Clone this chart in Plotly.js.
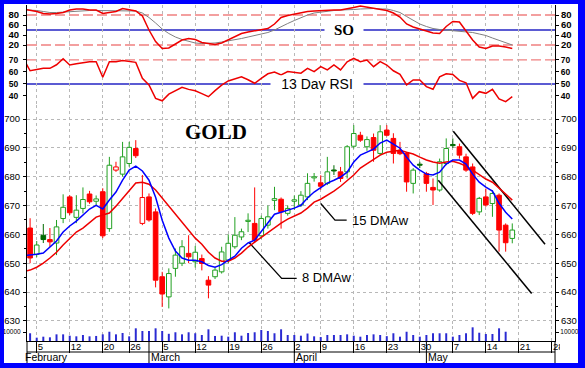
<!DOCTYPE html>
<html><head><meta charset="utf-8">
<script src="https://cdn.plot.ly/plotly-3.0.1.min.js"></script>
<style>
html,body{margin:0;padding:0;background:#0000ff;}
#wrap{position:relative;width:585px;height:368px;background:#0000ff;overflow:hidden}
#chart{position:absolute;left:4px;top:4px;width:574px;height:359px;background:#fff}
</style></head><body><div id="wrap"><div id="chart"></div></div>
<script>
// ---- tick labels ----
const weekTicks = [1,6,11,15,20,25,30,35,40,44,49,54,59,64,69,74,79];
const weekLabels = ["5","12","20","26","5","12","19","26","2","9","16","23","30","7","14","21","28"];
const monthNames = ["February","March","April","May"];
const monthFirstDay = [0,18,40,60];
const volTick = [10000], volTickText = ["10000"];

// ---- daily OHLC (trading-day index 0 = Feb 2) ----
const openP = [662.2,653.1,659.7,658.2,657.0,665.5,673.0,665.9,669.0,674.0,
 671.5,674.8,662.0,682.3,680.9,684.6,689.8,663.8,673.0,667.8,
 645.3,638.3,648.2,650.0,653.4,650.5,651.6,644.1,645.3,647.0,
 651.1,655.7,659.1,664.5,663.8,659.5,663.2,671.8,672.2,667.3,
 671.5,670.2,673.0,679.6,677.9,677.7,682.3,681.7,681.7,690.6,
 694.4,690.4,693.6,688.1,696.2,693.3,689.2,688.1,677.7,684.3,
 681.1,676.3,675.4,684.6,691.2,690.4,686.9,683.4,667.8,673.0,
 670.7,673.6,663.2,658.6];
const highP = [665.6,657.7,663.6,662.2,665.0,673.9,673.6,673.6,676.3,675.1,
 673.5,676.0,686.9,685.2,692.1,692.1,692.7,680.6,674.2,669.0,
 647.0,648.2,655.1,658.0,659.7,656.0,653.0,645.5,648.5,655.7,
 660.0,666.0,662.0,667.3,676.3,666.5,670.0,676.5,672.8,670.0,
 673.5,675.0,681.2,681.3,680.5,686.9,684.0,683.4,691.0,697.9,
 695.6,694.0,695.0,697.9,697.9,695.1,692.1,688.6,683.0,685.2,
 681.7,679.4,686.3,693.3,693.3,691.5,688.0,684.6,673.0,675.9,
 675.3,674.2,663.8,663.8];
const lowP = [650.0,652.1,657.0,655.7,652.8,663.9,666.7,663.9,667.3,670.6,
 670.0,658.7,660.9,681.7,680.0,683.5,686.5,663.2,664.4,641.6,
 634.8,634.3,645.3,649.0,650.0,648.5,647.5,637.8,644.5,646.4,
 650.0,655.0,658.0,660.8,657.0,658.5,662.0,668.4,662.0,666.5,
 668.5,669.5,671.9,678.3,675.5,677.1,680.6,678.2,679.4,689.8,
 692.1,689.0,685.2,687.5,694.0,684.6,687.5,674.8,674.2,683.0,
 674.8,670.2,674.8,684.0,690.0,686.3,681.7,666.7,666.7,669.6,
 666.1,654.0,654.0,656.9];
const closeP = [651.8,656.3,658.2,657.4,662.6,669.4,667.5,668.4,672.1,671.3,
 672.3,659.5,684.0,683.4,686.9,690.2,687.3,672.8,665.0,644.1,
 639.3,646.4,652.8,655.7,652.2,653.8,649.9,642.4,647.6,653.9,
 656.9,659.7,660.9,664.9,658.0,665.5,666.1,672.4,667.8,669.0,
 672.0,673.6,677.7,680.0,676.7,681.7,682.0,679.4,690.4,695.0,
 692.7,692.9,689.2,695.6,694.4,688.1,688.0,678.2,682.3,684.0,
 677.7,675.4,685.2,689.8,690.8,687.5,682.3,667.3,672.5,670.2,
 674.2,661.5,657.1,661.5];
const volume = [8600,3700,4800,4100,7400,7400,5900,5200,6700,5200,
 5600,7400,10300,7400,8900,5200,14100,11100,11100,14100,
 11100,8000,9700,7400,9700,8600,6700,13000,5600,5900,
 4800,9700,5900,8900,9700,12200,11100,8600,13000,6700,
 6700,5900,8300,5200,4400,6700,6700,6700,7400,5900,
 4800,6700,7400,6700,5400,8600,4800,10300,6700,4800,
 6700,8600,8600,8600,4800,6700,8600,15200,9200,7800,
 7800,14100,10300,null];

// ---- indicator lines (index -1 .. 73) ----
const lineDays = Array.from({length:75},(_, k)=>k-1);
const ma8 = [652.6,652.8,653.1,653.5,655.6,657.7,660.8,662.9,664.6,666.7,668.8,
 670.1,668.8,671.9,674.7,678.8,682.3,683.7,682.0,678.8,672.9,
 664.9,658.7,654.2,651.8,651.0,651.0,650.5,649.2,648.6,649.5,
 651.1,652.4,655.2,657.0,658.0,661.1,664.2,667.0,667.7,668.4,
 669.1,670.1,672.6,674.7,676.1,677.8,678.8,679.9,681.6,685.1,
 687.5,688.5,689.6,691.7,692.7,691.3,689.9,686.8,684.0,682.3,
 680.9,680.6,681.6,684.4,685.8,685.8,684.4,680.9,678.1,676.4,
 675.0,670.8,667.7,665.3];
const ma15 = [647.2,647.6,648.6,650.0,651.8,653.8,656.3,658.7,660.8,662.2,664.2,
 666.0,666.7,667.4,669.8,672.6,675.4,677.8,678.1,677.4,675.4,
 672.6,669.8,667.0,664.2,661.5,658.7,656.6,653.8,651.8,650.7,
 650.7,651.8,653.5,655.6,657.3,659.0,660.4,662.2,663.9,665.3,
 666.3,667.4,669.1,671.2,672.2,673.6,675.0,676.7,678.5,680.6,
 683.0,684.4,685.8,687.5,688.5,688.9,689.2,688.5,687.9,686.8,
 685.8,685.1,684.7,685.1,685.4,684.7,683.7,682.3,680.6,679.2,
 678.1,676.1,674.0,671.9];
const soK = [92,90,87,83,82,83,85,90,92,92,90,
 90,83,85,87,93,91,88,78,50,27,
 13,14,22,30,33,31,25,23,21,24,
 30,36,43,46,48,50,53,62,75,79,
 82,84,87,88,89,90,90,90,92,95,
 98,96,93,92,89,84,76,62,56,52,
 48,44,43,57,67,66,48,30,16,13,
 18,18,16,13];
const soD = [90.5,90,89,87,85,85,86,87,88,89,89,
 89,89,88,88,88,89,88,84,75,64,
 52,43,36,31,27,24,23,23,24,26,
 28,30,33,36,39,42,45,50,57,63,
 69,75,80,84,86,88,89,90,90,91,
 92,93,93,92,92,89,85,77,70,62,
 57,53,51,50,49,48,47,45,42,39,
 34,29,24,20];
const rsi13 = [71,61,62,63,63,66,71,65.8,66.8,67.8,68.6,
 68.6,55.6,68.6,68.6,69.5,69,68,54.7,49.2,38,
 36,41.5,44.5,47.2,45.5,44.3,42,39.4,44.5,49,
 52.5,54.5,56,53.5,50.6,54.7,58.5,60,57.5,60.3,
 59.5,59,63,60.3,64.4,61.7,65.8,61.7,68.4,71.4,
 68.6,70,64.4,68.6,65.8,61,58,49.2,53.3,53.3,
 47.8,45.6,56,58.5,58,53,51,38,43.6,42.2,
 45.6,37.5,35.3,39.4];

// ---- drawn trend channel and label leaders ----
const channelUpperX = [64.07,77.96], channelUpperY = [695.8,656.6];
const channelLowerX = [61.8,75.94],  channelLowerY = [678.8,639.5];
const lead15X = [44.0,46.16,47.93], lead15Y = [670.7,664.94,664.94];
const lead8X = [33.19,38.09,40.36],  lead8Y = [657.1,644.7,644.7];

const FONT = 'Liberation Sans, Arial, Helvetica, sans-serif';
const SERIF = 'Liberation Serif, Times New Roman, serif';
const GREEN = '#22a022', DARKGREEN = '#006a00', RED = '#ff0000';

const days = openP.map((_, i) => i);
const bodyBase = [], bodyLen = [], bodyFill = [], bodyLine = [];
const wicks = {};
[GREEN, DARKGREEN, RED].forEach(c => wicks[c] = {x:[], y:[]});
days.forEach(i => {
  const o = openP[i], c = closeP[i];
  const up = i > 0 && c >= closeP[i-1];
  const hollow = c > o;
  const col = up ? (hollow ? GREEN : DARKGREEN) : RED;
  const lo = Math.min(o,c), hi = Math.max(o,c);
  bodyBase.push(lo); bodyLen.push(Math.max(hi-lo, 0.35));
  bodyFill.push(hollow ? '#ffffff' : col); bodyLine.push(col);
  const w = wicks[col];
  w.x.push(i,i,null,i,i,null);
  w.y.push(lowP[i], lo, null, Math.max(hi, lo+0.35), highP[i], null);
});

const traces = [];
traces.push({type:'bar', x:days, y:volume, width:0.3, marker:{color:'#2a2ad2'}, xaxis:'x', yaxis:'y4', hoverinfo:'skip'});
traces.push({type:'bar', x:days, base:bodyBase, y:bodyLen, width:0.7,
  marker:{color:bodyFill, line:{color:bodyLine, width:1}}, xaxis:'x', yaxis:'y', hoverinfo:'skip'});
Object.keys(wicks).forEach(c => traces.push({type:'scatter', mode:'lines', x:wicks[c].x, y:wicks[c].y,
  line:{color:c, width:1}, xaxis:'x', yaxis:'y', hoverinfo:'skip'}));
[[channelUpperX,channelUpperY],[channelLowerX,channelLowerY]].forEach(([x,y]) =>
  traces.push({type:'scatter', mode:'lines', x, y, line:{color:'#000', width:1.5}, xaxis:'x', yaxis:'y', hoverinfo:'skip'}));
[[lead15X,lead15Y],[lead8X,lead8Y]].forEach(([x,y]) =>
  traces.push({type:'scatter', mode:'lines', x, y, line:{color:'#000', width:1.3}, xaxis:'x', yaxis:'y', hoverinfo:'skip'}));
traces.push({type:'scatter', mode:'lines', x:lineDays, y:ma15, line:{color:'#ee0000', width:1.5}, xaxis:'x', yaxis:'y'});
traces.push({type:'scatter', mode:'lines', x:lineDays, y:ma8, line:{color:'#0000ff', width:1.5}, xaxis:'x', yaxis:'y'});
traces.push({type:'scatter', mode:'lines', x:lineDays, y:rsi13, line:{color:'#ee0000', width:1.5}, xaxis:'x', yaxis:'y2'});
traces.push({type:'scatter', mode:'lines', x:lineDays, y:soD, line:{color:'#808080', width:1}, xaxis:'x', yaxis:'y3'});
traces.push({type:'scatter', mode:'lines', x:lineDays, y:soK, line:{color:'#ee0000', width:1.5}, xaxis:'x', yaxis:'y3'});
['y5','y6','y7','y8'].forEach(ya => traces.push({type:'scatter', mode:'markers', x:[null], y:[null], xaxis:'x', yaxis:ya, hoverinfo:'skip'}));

const H = 336; // plot area height in px
const dom = {so:[288/H,1], rsi:[236/H,288/H], price:[15/H,236/H], vol:[0,15/H]};
const R = {so:[4,100], rsi:[32.5,75.8], price:[628.2,704.9], vol:[0,16667]};

function yAx(extra){
  return Object.assign({ticks:'outside', ticklen:3, tickcolor:'#000', showline:true, linecolor:'#000', linewidth:1,
    zeroline:false, showgrid:false, fixedrange:true, anchor:'x'}, extra);
}
const fPrice = {size:9.5, family:FONT, color:'#000'};
const fRsi = {size:8.5, family:FONT, color:'#000', weight:'bold'};
const fSo = {size:9.5, family:FONT, color:'#000', weight:'bold'};
const fVol = {size:6.5, family:FONT, color:'#000'};
const minorP = {ticks:'outside', ticklen:2, tickcolor:'#000', dtick:5, tick0:630, showgrid:false};

const pap = y => (341 - y) / H; // page y -> paper

const shapes = [
  {type:'line', xref:'paper', x0:0, x1:1, yref:'y3', y0:80, y1:80, line:{color:'#f08080', width:1.3, dash:'10px,4px'}, layer:'between'},
  {type:'line', xref:'paper', x0:0, x1:1, yref:'y3', y0:20, y1:20, line:{color:'#f08080', width:1.3, dash:'10px,4px'}, layer:'between'},
  {type:'line', xref:'paper', x0:0, x1:1, yref:'y3', y0:50, y1:50, line:{color:'#2424c4', width:1.6}, layer:'between'},
  {type:'line', xref:'paper', x0:0, x1:1, yref:'y2', y0:70, y1:70, line:{color:'#f08080', width:1.3, dash:'10px,4px'}, layer:'between'},
  {type:'line', xref:'paper', x0:0, x1:1, yref:'y2', y0:50, y1:50, line:{color:'#2424c4', width:1.6}, layer:'between'},
  {type:'rect', xref:'paper', x0:1 + 5/528, x1:1.045, yref:'paper', y0:pap(342), y1:pap(352.5), fillcolor:'#fff', line:{width:0}, layer:'above'},
  {type:'line', xref:'paper', x0:0, x1:1, yref:'paper', y0:pap(352), y1:pap(352), line:{color:'#000', width:1}, layer:'above'},
  {type:'line', xref:'paper', x0:0, x1:0, yref:'paper', y0:0, y1:pap(363), line:{color:'#000', width:1}, layer:'above'},
  {type:'line', xref:'paper', x0:1, x1:1, yref:'paper', y0:0, y1:pap(363), line:{color:'#000', width:1}, layer:'above'}
];
monthFirstDay.forEach((d, k) => { if (k > 0) shapes.push({type:'line', xref:'x', x0:d, x1:d, yref:'paper', y0:0, y1:pap(363), line:{color:'#000', width:1}, layer:'above'}); });

const annotations = [
  {text:'<b>GOLD</b>', xref:'x', x:28.2, yref:'y', y:695.5, showarrow:false, font:{family:SERIF, size:21, color:'#000'}},
  {text:'<b>SO</b>', xref:'x', x:47.57, yref:'y3', y:50, showarrow:false, font:{family:SERIF, size:15, color:'#000'}, bgcolor:'#fff', width:36, height:14},
  {text:'13 Day RSI', xref:'x', x:43.39, yref:'y2', y:50, showarrow:false, font:{family:FONT, size:14, color:'#000'}, bgcolor:'#fff', width:90, height:13},
  {text:'15 DMAw', xref:'x', x:48.5, xanchor:'left', yref:'y', y:664.9, showarrow:false, font:{family:FONT, size:13, color:'#000'}},
  {text:'8 DMAw', xref:'x', x:40.9, xanchor:'left', yref:'y', y:645.2, showarrow:false, font:{family:FONT, size:13, color:'#000'}}
];
monthNames.forEach((m, k) => annotations.push({text:m, xref: k===0 ? 'paper' : 'x', x: k===0 ? 0 : monthFirstDay[k],
  xanchor:'left', xshift: k===0 ? -3 : 1, yref:'paper', y:pap(357.3), yanchor:'middle', showarrow:false, borderpad:0,
  font:{family:FONT, size:10.5, color:'#000'}}));

const layout = {
  width:574, height:359, margin:{l:23, r:23, t:1, b:22},
  paper_bgcolor:'#fff', plot_bgcolor:'#fff', showlegend:false, barmode:'overlay',
  font:{family:FONT, color:'#000'},
  xaxis:{domain:[0,1], range:[-0.47,79.47], anchor:'y4', tickmode:'array', tickvals:weekTicks, ticktext:weekLabels,
    ticks:'outside', ticklen:11, tickcolor:'#000', tickwidth:1, showline:true, linecolor:'#000', linewidth:1,
    showgrid:true, gridcolor:'#b8b8b8', griddash:'dot', gridwidth:1, zeroline:false, fixedrange:true,
    tickfont:{size:9.5, family:FONT, color:'#000'}, ticklabelposition:'outside right', ticklabelstandoff:-3},
  yaxis: yAx({domain:dom.price, range:R.price, tickmode:'linear', tick0:630, dtick:10, tickfont:fPrice, showgrid:true, gridcolor:'#b8b8b8', griddash:'dot', minor:minorP, ticklabelstandoff:1}),
  yaxis2: yAx({domain:dom.rsi, range:R.rsi, tickmode:'array', tickvals:[40,50,60,70], tickfont:fRsi, ticklabelstandoff:3}),
  yaxis3: yAx({domain:dom.so, range:R.so, tickmode:'array', tickvals:[20,40,60,80], tickfont:fSo, ticklabelstandoff:2}),
  yaxis4: yAx({domain:dom.vol, range:R.vol, tickmode:'array', tickvals:volTick, ticktext:volTickText, tickfont:fVol, ticklabelstandoff:1}),
  yaxis5: yAx({overlaying:'y', side:'right', range:R.price, tickmode:'linear', tick0:630, dtick:10, tickfont:fPrice, minor:minorP}),
  yaxis6: yAx({overlaying:'y2', side:'right', range:R.rsi, tickmode:'array', tickvals:[40,50,60,70], tickfont:fRsi}),
  yaxis7: yAx({overlaying:'y3', side:'right', range:R.so, tickmode:'array', tickvals:[20,40,60,80], tickfont:fSo}),
  yaxis8: yAx({overlaying:'y4', side:'right', range:R.vol, tickmode:'array', tickvals:volTick, ticktext:volTickText, tickfont:fVol}),
  shapes, annotations
};
Plotly.newPlot('chart', traces, layout, {staticPlot:true, displayModeBar:false});
</script></body></html>
